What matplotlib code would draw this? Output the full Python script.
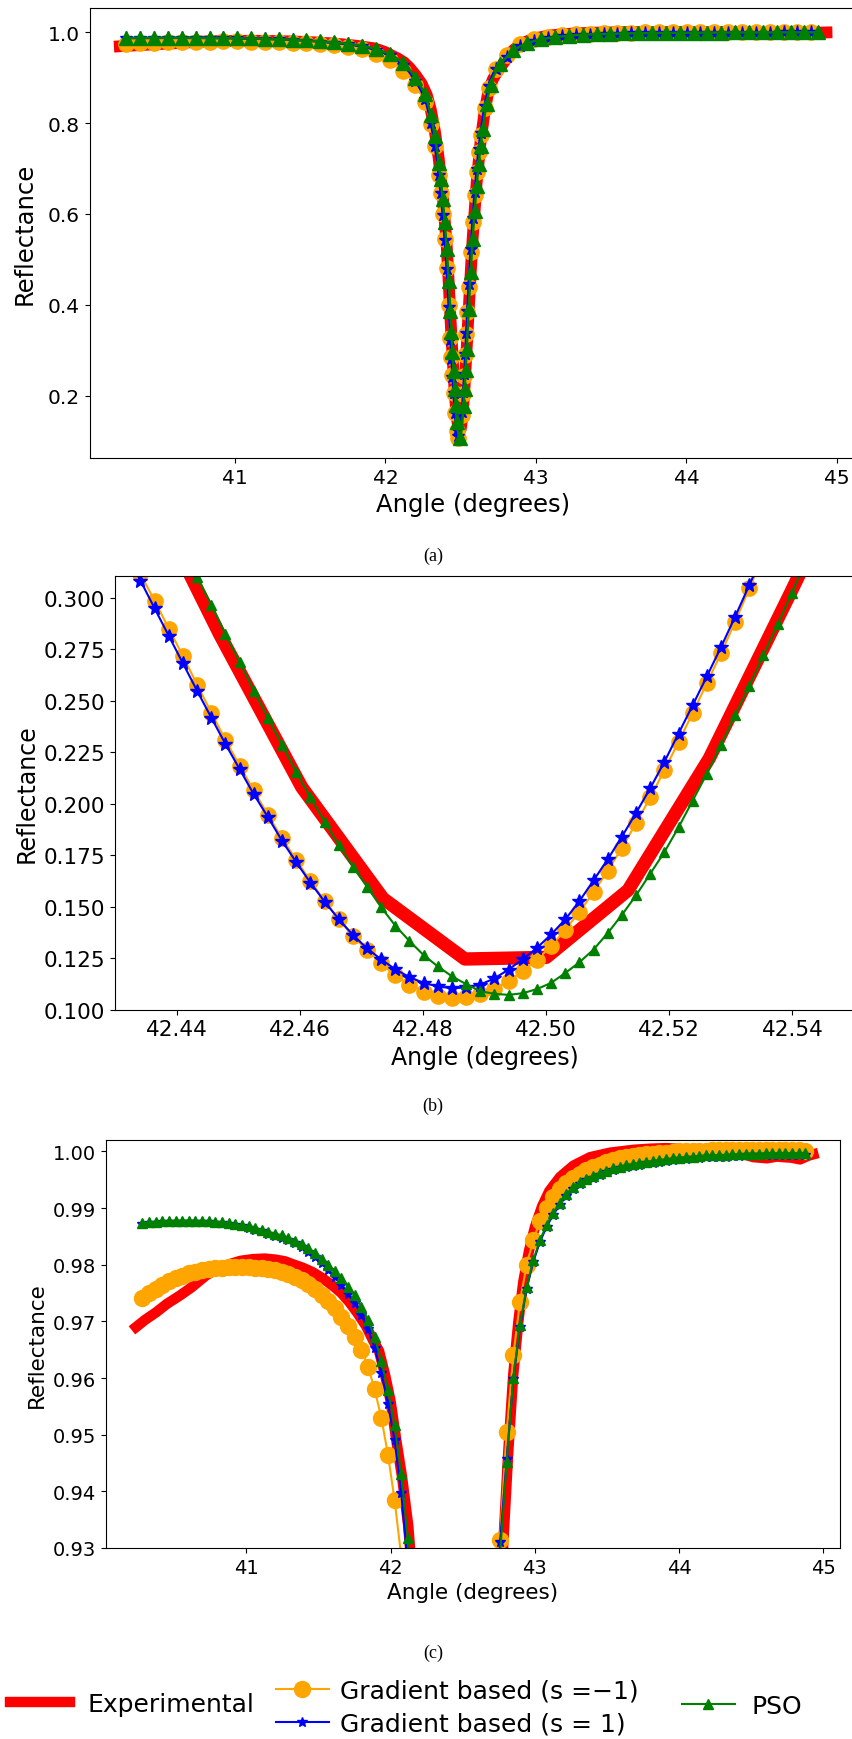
import numpy as np
import matplotlib
matplotlib.use('Agg')
import matplotlib.pyplot as plt

exp_angle = [40.236, 40.300, 40.375, 40.450, 40.536, 40.620, 40.720, 40.800, 40.883, 40.960,
             41.045, 41.130, 41.207, 41.270, 41.322, 41.390, 41.460, 41.530, 41.600, 41.660,
             41.715, 41.770, 41.830, 41.880, 41.920, 41.960, 42.000, 42.040, 42.080, 42.123,
             42.160, 42.200, 42.240, 42.275, 42.3013, 42.3278, 42.3543, 42.3808, 42.4073, 42.4205,
             42.4337, 42.4470, 42.4603, 42.4735, 42.4868, 42.5000, 42.5133, 42.5265, 42.5398, 42.5530,
             42.5663, 42.5795, 42.6060, 42.6325, 42.6590, 42.6855, 42.7150, 42.7500, 42.7820, 42.8160,
             42.8500, 42.8860, 42.9200, 42.9600, 43.0000, 43.0500, 43.1000, 43.1750, 43.2670, 43.3830,
             43.5220, 43.6830, 43.8000, 43.9140, 44.0300, 44.1450, 44.2600, 44.3760, 44.4500, 44.5140,
             44.6070, 44.6800, 44.7220, 44.7800, 44.8380, 44.9000, 44.9300]
exp_refl = [0.9690, 0.9703, 0.9716, 0.9731, 0.9745, 0.9760, 0.9781, 0.9793, 0.9801, 0.9807,
            0.9810, 0.9811, 0.9809, 0.9806, 0.9801, 0.9795, 0.9787, 0.9776, 0.9763, 0.9750,
            0.9734, 0.9715, 0.9692, 0.9666, 0.9648, 0.9608, 0.9560, 0.9490, 0.9425, 0.9339,
            0.9220, 0.9060, 0.8870, 0.8620, 0.8300, 0.7840, 0.7220, 0.6420, 0.5300, 0.4500,
            0.3620, 0.2820, 0.2080, 0.1540, 0.1246, 0.1254, 0.1580, 0.2220, 0.3030, 0.3850,
            0.4680, 0.5450, 0.6680, 0.7600, 0.8250, 0.8720, 0.8970, 0.9170, 0.9310, 0.9470,
            0.9605, 0.9700, 0.9770, 0.9825, 0.9866, 0.9903, 0.9930, 0.9955, 0.9975, 0.9990,
            0.9998, 1.0003, 1.0005, 1.0006, 1.0004, 1.0001, 1.0005, 1.0003, 0.9995, 0.9990,
            0.9988, 0.9991, 0.9990, 0.9989, 0.9986, 0.9993, 0.9995]

model_angle = [
    # left flank
    40.280, 40.326, 40.372, 40.418, 40.464, 40.510, 40.556, 40.602, 40.648, 40.694,
    40.740, 40.786, 40.832, 40.878, 40.924, 40.970, 41.016, 41.062, 41.108, 41.154,
    41.200, 41.246, 41.292, 41.338, 41.384, 41.430, 41.476, 41.522, 41.568, 41.614,
    41.660, 41.706, 41.752, 41.798, 41.844, 41.890, 41.936, 41.982, 42.028, 42.074,
    42.120,
    # dip, falling side
    42.160, 42.200, 42.235, 42.2615, 42.2748, 42.2880, 42.3013, 42.3145, 42.3278, 42.3410,
    42.3543, 42.3675, 42.3808, 42.3940, 42.4073, 42.4205,
    # fine steps round the minimum
    42.4318, 42.4341, 42.4364, 42.4387, 42.4410, 42.4433, 42.4456, 42.4479, 42.4502, 42.4525,
    42.4548, 42.4571, 42.4594, 42.4617, 42.4640, 42.4663, 42.4686, 42.4709, 42.4732, 42.4755,
    42.4778, 42.4801, 42.4824, 42.4847, 42.4870, 42.4893, 42.4916, 42.4939, 42.4962, 42.4985,
    42.5008, 42.5031, 42.5054, 42.5077, 42.5100, 42.5123, 42.5146, 42.5169, 42.5192, 42.5215,
    42.5238, 42.5261, 42.5284, 42.5307, 42.5330, 42.5353, 42.5376, 42.5399, 42.5422, 42.5445,
    # dip, rising side
    42.5530, 42.5663, 42.5795, 42.5928, 42.6060, 42.6193, 42.6325, 42.6458, 42.6590, 42.6723,
    42.6855, 42.6988, 42.7150, 42.7350,
    # right flank
    42.759, 42.805, 42.851, 42.897, 42.943, 42.989, 43.035, 43.081, 43.127, 43.173,
    43.219, 43.265, 43.311, 43.357, 43.403, 43.449, 43.495, 43.541, 43.587, 43.633,
    43.679, 43.725, 43.771, 43.817, 43.863, 43.909, 43.955, 44.001, 44.047, 44.093,
    44.139, 44.185, 44.231, 44.277, 44.323, 44.369, 44.415, 44.461, 44.507, 44.553,
    44.599, 44.645, 44.691, 44.737, 44.783, 44.829, 44.875]

grad_neg = [
    0.9741, 0.9750, 0.9758, 0.9765, 0.9771, 0.9776, 0.9781, 0.9785, 0.9788, 0.9791,
    0.9793, 0.9794, 0.9795, 0.9796, 0.9796, 0.9796, 0.9796, 0.9795, 0.9794, 0.9792,
    0.9790, 0.9787, 0.9783, 0.9778, 0.9773, 0.9766, 0.9757, 0.9747, 0.9736, 0.9723,
    0.9708, 0.9692, 0.9673, 0.9650, 0.9620, 0.9580, 0.9530, 0.9465, 0.9385, 0.9285,
    0.9155,
    0.901, 0.884, 0.866, 0.847, 0.835, 0.818, 0.798, 0.775, 0.749, 0.720,
    0.686, 0.647, 0.600, 0.545, 0.481, 0.400,
    0.3260, 0.3115, 0.2985, 0.2850, 0.2716, 0.2578, 0.2442, 0.2310, 0.2185, 0.2064,
    0.1946, 0.1832, 0.1727, 0.1625, 0.1528, 0.1438, 0.1358, 0.1290, 0.1225, 0.1167,
    0.1122, 0.1088, 0.1068, 0.1057, 0.1061, 0.1078, 0.1100, 0.1140, 0.1186, 0.1243,
    0.1308, 0.1388, 0.1475, 0.1570, 0.1675, 0.1785, 0.1905, 0.2030, 0.2162, 0.2300,
    0.2440, 0.2585, 0.2730, 0.2883, 0.3045, 0.3205, 0.3360, 0.3520, 0.3680, 0.3850,
    0.438, 0.515, 0.583, 0.642, 0.692, 0.736, 0.774, 0.806, 0.834, 0.857,
    0.877, 0.894, 0.908, 0.920,
    0.9315, 0.9505, 0.9640, 0.9735, 0.9800, 0.9843, 0.9877, 0.9901, 0.9919, 0.9933,
    0.9945, 0.9954, 0.9961, 0.9967, 0.9972, 0.9977, 0.9981, 0.9985, 0.9988, 0.9990,
    0.9992, 0.9994, 0.9995, 0.9996, 0.9997, 0.9998, 0.9999, 1.0000, 1.0000, 1.0001,
    1.0001, 1.0001, 1.0002, 1.0002, 1.0002, 1.0002, 1.0002, 1.0002, 1.0002, 1.0002,
    1.0002, 1.0002, 1.0002, 1.0002, 1.0002, 1.0002, 1.0001]

grad_pos = [
    0.9872, 0.9873, 0.9874, 0.9875, 0.9875, 0.9876, 0.9876, 0.9876, 0.9876, 0.9875,
    0.9875, 0.9874, 0.9873, 0.9872, 0.9870, 0.9868, 0.9865, 0.9862, 0.9859, 0.9855,
    0.9851, 0.9848, 0.9844, 0.9838, 0.9831, 0.9823, 0.9814, 0.9803, 0.9791, 0.9779,
    0.9765, 0.9749, 0.9733, 0.9711, 0.9686, 0.9653, 0.9609, 0.9555, 0.9490, 0.9397,
    0.9270,
    0.912, 0.893, 0.873, 0.853, 0.840, 0.822, 0.801, 0.777, 0.750, 0.720,
    0.685, 0.645, 0.598, 0.542, 0.478, 0.395,
    0.3225, 0.3083, 0.2948, 0.2815, 0.2681, 0.2548, 0.2418, 0.2290, 0.2168, 0.2046,
    0.1935, 0.1820, 0.1716, 0.1617, 0.1525, 0.1440, 0.1363, 0.1298, 0.1244, 0.1196,
    0.1158, 0.1130, 0.1113, 0.1104, 0.1108, 0.1122, 0.1152, 0.1195, 0.1245, 0.1300,
    0.1365, 0.1438, 0.1527, 0.1628, 0.1730, 0.1840, 0.1955, 0.2075, 0.2203, 0.2340,
    0.2478, 0.2618, 0.2760, 0.2908, 0.3062, 0.3215, 0.3375, 0.3535, 0.3700, 0.3870,
    0.445, 0.522, 0.590, 0.648, 0.698, 0.742, 0.779, 0.811, 0.838, 0.861,
    0.881, 0.895, 0.908, 0.920,
    0.9310, 0.9457, 0.9598, 0.9690, 0.9757, 0.9805, 0.9840, 0.9867, 0.9888, 0.9906,
    0.9922, 0.9934, 0.9943, 0.9949, 0.9954, 0.9959, 0.9963, 0.9967, 0.9970, 0.9973,
    0.9975, 0.9977, 0.9979, 0.9980, 0.9982, 0.9983, 0.9985, 0.9986, 0.9987, 0.9988,
    0.9989, 0.9990, 0.9990, 0.9991, 0.9991, 0.9992, 0.9992, 0.9993, 0.9993, 0.9993,
    0.9994, 0.9994, 0.9994, 0.9994, 0.9994, 0.9994, 0.9994]

pso = [
    0.9874, 0.9875, 0.9876, 0.9877, 0.9877, 0.9878, 0.9878, 0.9878, 0.9878, 0.9877,
    0.9877, 0.9876, 0.9875, 0.9874, 0.9872, 0.9870, 0.9868, 0.9865, 0.9862, 0.9858,
    0.9855, 0.9852, 0.9848, 0.9842, 0.9836, 0.9829, 0.9821, 0.9811, 0.9800, 0.9789,
    0.9776, 0.9761, 0.9746, 0.9726, 0.9703, 0.9672, 0.9630, 0.9579, 0.9518, 0.9431,
    0.9318,
    0.918, 0.900, 0.881, 0.864, 0.852, 0.836, 0.818, 0.797, 0.772, 0.745,
    0.712, 0.676, 0.632, 0.582, 0.522, 0.452,
    0.3870, 0.3715, 0.3555, 0.3395, 0.3235, 0.3100, 0.2966, 0.2823, 0.2688, 0.2549,
    0.2416, 0.2286, 0.2153, 0.2030, 0.1913, 0.1800, 0.1695, 0.1597, 0.1497, 0.1408,
    0.1333, 0.1265, 0.1210, 0.1162, 0.1124, 0.1090, 0.1077, 0.1072, 0.1080, 0.1100,
    0.1130, 0.1178, 0.1230, 0.1292, 0.1372, 0.1460, 0.1555, 0.1660, 0.1765, 0.1885,
    0.2015, 0.2145, 0.2285, 0.2430, 0.2572, 0.2723, 0.2870, 0.3023, 0.3180, 0.3340,
    0.391, 0.472, 0.545, 0.607, 0.661, 0.709, 0.750, 0.786, 0.816, 0.843,
    0.865, 0.884, 0.900, 0.915,
    0.9290, 0.9452, 0.9600, 0.9693, 0.9760, 0.9808, 0.9843, 0.9870, 0.9891, 0.9909,
    0.9925, 0.9937, 0.9946, 0.9952, 0.9957, 0.9962, 0.9966, 0.9970, 0.9973, 0.9976,
    0.9978, 0.9980, 0.9982, 0.9983, 0.9985, 0.9986, 0.9988, 0.9989, 0.9990, 0.9991,
    0.9992, 0.9993, 0.9993, 0.9994, 0.9994, 0.9995, 0.9995, 0.9996, 0.9996, 0.9996,
    0.9997, 0.9997, 0.9997, 0.9997, 0.9997, 0.9997, 0.9997]

labels = ['Experimental', 'Gradient based (s =\u22121)', 'Gradient based (s = 1)', 'PSO']
captions = ['(a)', '(b)', '(c)']

W, H = 852, 1740


def box(left, top, right, bottom):
    return [left / W, 1 - bottom / H, (right - left) / W, (bottom - top) / H]


def thin(x, y, dx=0.09, dy=0.035):
    # keep markers roughly one marker-width apart on the full-range panel
    keep = [0]
    for i in range(1, len(x)):
        j = keep[-1]
        if ((x[i] - x[j]) / dx) ** 2 + ((y[i] - y[j]) / dy) ** 2 >= 1:
            keep.append(i)
    keep.append(int(np.argmin(y)))
    return sorted(set(keep))


def draw(ax, red_lw, o_ms, s_ms, t_ms, lw, sparse=False):
    ax.plot(exp_angle, exp_refl, color='red', lw=red_lw, label=labels[0])
    for vals, col, mk, ms, lab in [(grad_neg, 'orange', 'o', o_ms, labels[1]),
                                   (grad_pos, 'blue', '*', s_ms, labels[2]),
                                   (pso, 'green', '^', t_ms, labels[3])]:
        every = thin(model_angle, vals) if sparse else None
        ax.plot(model_angle, vals, color=col, marker=mk, ms=ms, lw=lw,
                markevery=every, label=lab)


fig = plt.figure(figsize=(W / 100, H / 100), dpi=100)

# (a) full curve
ax_a = fig.add_axes(box(89.7, 8.9, 856, 459))
draw(ax_a, 8.5, 11, 9.5, 10, 1.8, sparse=True)
ax_a.set_xlim(40.036, 45.126)
ax_a.set_ylim(0.0625, 1.0535)
ax_a.set_xticks([41, 42, 43, 44, 45])
ax_a.tick_params(labelsize=14.5)
ax_a.set_xlabel('Angle (degrees)', fontsize=17.5)
ax_a.set_ylabel('Reflectance', fontsize=17.5, labelpad=8)

# (b) around the minimum
ax_b = fig.add_axes(box(115.2, 576.8, 854, 1010.7))
draw(ax_b, 9.6, 11, 10, 7, 1.5)
ax_b.set_xlim(42.43, 42.55)
ax_b.set_ylim(0.100, 0.3106)
ax_b.set_xticks([42.44, 42.46, 42.48, 42.50, 42.52, 42.54])
ax_b.set_xticklabels(['42.44', '42.46', '42.48', '42.50', '42.52', '42.54'])
ax_b.set_yticks([0.100, 0.125, 0.150, 0.175, 0.200, 0.225, 0.250, 0.275, 0.300])
ax_b.tick_params(labelsize=15.5)
ax_b.set_xlabel('Angle (degrees)', fontsize=17)
ax_b.set_ylabel('Reflectance', fontsize=17)

# (c) top of the curve
ax_c = fig.add_axes(box(106, 1140.6, 839.7, 1549))
draw(ax_c, 7.5, 11.5, 7, 6.5, 1.5)
ax_c.set_xlim(40.028, 45.113)
ax_c.set_ylim(0.93, 1.0021)
ax_c.set_xticks([41, 42, 43, 44, 45])
ax_c.set_yticks([0.93, 0.94, 0.95, 0.96, 0.97, 0.98, 0.99, 1.00])
ax_c.tick_params(labelsize=14)
ax_c.set_xlabel('Angle (degrees)', fontsize=15.5)
ax_c.set_ylabel('Reflectance', fontsize=15.5)

for cap, y in zip(captions, [556, 1106, 1653]):
    fig.text(433 / W, 1 - y / H, cap, ha='center', va='center',
             family='Liberation Serif', fontsize=13)

h = ax_c.get_lines()
common = dict(loc='center left', frameon=False, fontsize=18, borderpad=0,
              borderaxespad=0)
fig.legend([h[0]], [labels[0]], bbox_to_anchor=(10 / W, 1 - 1705 / H),
           handlelength=2.4, handletextpad=0.7, **common)
fig.legend([h[1], h[2]], labels[1:3], bbox_to_anchor=(276 / W, 1 - 1708 / H),
           handlelength=2.1, handletextpad=0.45, labelspacing=0.35, **common)
fig.legend([h[3]], [labels[3]], bbox_to_anchor=(682 / W, 1 - 1707 / H),
           handlelength=2.1, handletextpad=0.7, **common)

fig.savefig('out.png', dpi=100)
